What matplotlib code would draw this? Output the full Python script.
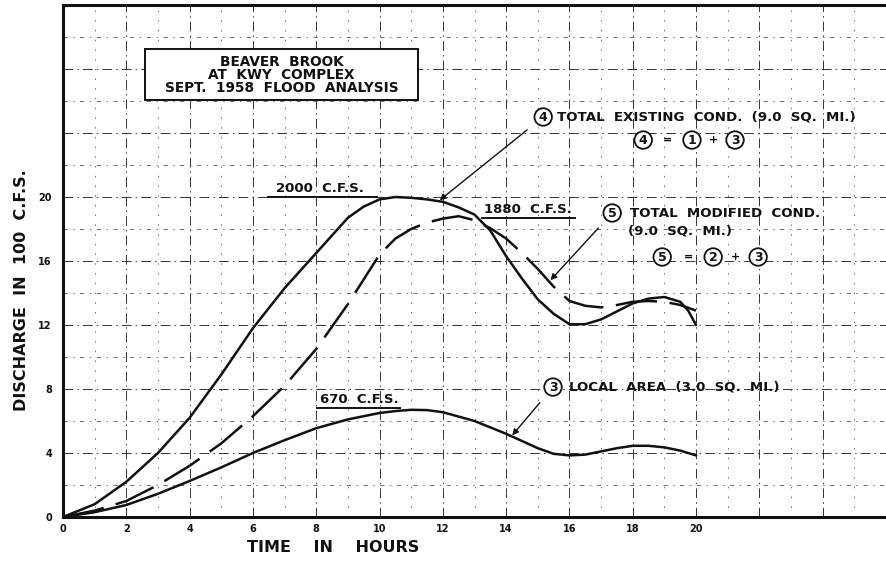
import matplotlib
matplotlib.use("Agg")
import matplotlib.pyplot as plt
from matplotlib.patches import Rectangle

plt.rcParams['font.family'] = ['DejaVu Sans']
plt.rcParams['font.weight'] = 'bold'
plt.rcParams['lines.scale_dashes'] = False

ink = '#111111'

# hydrographs, discharge in 100 c.f.s.
hours_exist = [0, 1, 2, 3, 4, 5, 6, 7, 8, 9, 9.5, 10, 10.5, 11, 11.5, 12, 12.5, 13, 13.5, 14, 14.5, 15, 15.5, 16, 16.5, 17, 17.5, 18, 18.5, 19, 19.5, 19.75, 20]
q_exist = [0, 0.8, 2.2, 4.0, 6.2, 8.9, 11.8, 14.3, 16.5, 18.7, 19.4, 19.85, 20.0, 19.95, 19.85, 19.7, 19.35, 18.9, 17.9, 16.3, 14.9, 13.6, 12.7, 12.05, 12.05, 12.35, 12.85, 13.35, 13.65, 13.75, 13.45, 12.9, 12.0]

hours_mod = [0, 1, 2, 3, 4, 5, 6, 7, 8, 9, 10, 10.5, 11, 11.5, 12, 12.5, 13, 13.5, 14, 14.5, 15, 15.5, 16, 16.5, 17, 17.5, 18, 18.5, 19, 19.5, 20]
q_mod = [0, 0.4, 1.0, 2.0, 3.2, 4.6, 6.3, 8.2, 10.5, 13.3, 16.4, 17.4, 18.0, 18.4, 18.65, 18.8, 18.55, 18.05, 17.4, 16.5, 15.5, 14.4, 13.5, 13.2, 13.1, 13.25, 13.45, 13.5, 13.45, 13.25, 12.9]

hours_local = [0, 1, 2, 3, 4, 5, 6, 7, 8, 9, 10, 10.5, 11, 11.5, 12, 13, 14, 15, 15.5, 16, 16.5, 17, 17.5, 18, 18.5, 19, 19.5, 20]
q_local = [0, 0.3, 0.75, 1.45, 2.25, 3.1, 4.0, 4.8, 5.55, 6.1, 6.5, 6.62, 6.7, 6.68, 6.55, 6.0, 5.2, 4.3, 3.95, 3.85, 3.9, 4.1, 4.3, 4.45, 4.45, 4.35, 4.15, 3.85]

xticks = [0, 2, 4, 6, 8, 10, 12, 14, 16, 18, 20]
yticks = [0, 4, 8, 12, 16, 20]

fig = plt.figure(figsize=(8.86, 5.61), dpi=100)
ax = fig.add_axes([63/886, 44/561, 823/886, 512/561])
ax.set_xlim(0, 26.0)
ax.set_ylim(0, 32)

# graph paper
for h in range(1, 27):
    if h % 2 == 0:
        ax.axvline(h, color='#333333', lw=0.7, ls=(0, (7, 3, 1, 3)), zorder=1)
    else:
        ax.axvline(h, color='#555555', lw=0.6, ls=(0, (1, 6)), zorder=1)
for q in range(2, 32, 2):
    if q % 4 == 0:
        ax.axhline(q, color='#333333', lw=0.7, ls=(0, (7, 3, 1, 3)), zorder=1)
    else:
        ax.axhline(q, color='#555555', lw=0.6, ls=(0, (3, 4, 1, 4)), zorder=1)

ax.plot(hours_exist, q_exist, color=ink, lw=1.8, solid_capstyle='round', solid_joinstyle='round', zorder=3)
ax.plot(hours_mod, q_mod, color=ink, lw=1.8, dashes=(30, 9), zorder=3)
ax.plot(hours_local, q_local, color=ink, lw=1.8, solid_capstyle='round', solid_joinstyle='round', zorder=3)

for s in ['left', 'bottom', 'top']:
    ax.spines[s].set_linewidth(2.2)
    ax.spines[s].set_color(ink)
ax.spines['right'].set_visible(False)

ax.set_xticks(xticks)
ax.set_yticks(yticks)
ax.tick_params(length=0, labelsize=7, colors=ink)
ax.tick_params(axis='x', pad=5)
ax.tick_params(axis='y', pad=8)

fig.text(22/886, 1 - 290/561, 'DISCHARGE  IN  100  C.F.S.', rotation=90, ha='center', va='center',
         fontsize=11.5, fontweight='bold', color=ink)
fig.text(333/886, 1 - 547/561, 'TIME    IN    HOURS', ha='center', va='center',
         fontsize=11.5, fontweight='bold', color=ink)

# title box
ax.add_patch(Rectangle((2.59, 26.06), 8.63, 3.2, fill=True, fc='white', ec=ink, lw=1.4, zorder=4))
ax.text(6.9, 27.62, 'BEAVER  BROOK\nAT  KWY  COMPLEX\nSEPT.  1958  FLOOD  ANALYSIS', ha='center', va='center',
        fontsize=9.8, fontweight='bold', linespacing=0.92, color=ink, zorder=5)

# peak labels
ax.text(8.12, 20.12, '2000  C.F.S.', ha='center', va='bottom', fontsize=9.5, color=ink, zorder=5)
ax.plot([6.48, 9.92], [20, 20], color=ink, lw=1.4, zorder=4)
ax.text(14.7, 18.8, '1880  C.F.S.', ha='center', va='bottom', fontsize=9.5, color=ink, zorder=5)
ax.plot([13.24, 16.18], [18.69, 18.69], color=ink, lw=1.4, zorder=4)
ax.text(9.35, 6.92, '670  C.F.S.', ha='center', va='bottom', fontsize=9.5, color=ink, zorder=5)
ax.plot([8.03, 10.65], [6.81, 6.81], color=ink, lw=1.4, zorder=4)

circ = dict(boxstyle='circle,pad=0.18', fc='white', ec=ink, lw=1.3)
arrow = dict(arrowstyle='-|>', color=ink, lw=1.0, mutation_scale=9, shrinkA=8, shrinkB=0)

# curve 4
ax.annotate('4', xy=(11.9, 19.8), xytext=(15.17, 25.0), ha='center', va='center', fontsize=9,
            color=ink, bbox=circ, arrowprops=arrow, zorder=6)
ax.text(15.6, 25.0, 'TOTAL  EXISTING  COND.  (9.0  SQ.  MI.)', ha='left', va='center',
        fontsize=9.6, color=ink, zorder=6)
for xx, s in zip([18.33, 19.87, 21.23], ['4', '1', '3']):
    ax.text(xx, 23.56, s, ha='center', va='center', fontsize=9, color=ink, bbox=circ, zorder=6)
ax.text(19.1, 23.56, '=', ha='center', va='center', fontsize=8, color=ink, zorder=6)
ax.text(20.55, 23.56, '+', ha='center', va='center', fontsize=8, color=ink, zorder=6)

# curve 5
ax.annotate('5', xy=(15.4, 14.8), xytext=(17.35, 19.0), ha='center', va='center', fontsize=9,
            color=ink, bbox=circ, arrowprops=arrow, zorder=6)
ax.text(17.9, 19.0, 'TOTAL  MODIFIED  COND.', ha='left', va='center', fontsize=9.6, color=ink, zorder=6)
ax.text(17.85, 17.9, '(9.0  SQ.  MI.)', ha='left', va='center', fontsize=9.6, color=ink, zorder=6)
for xx, s in zip([18.93, 20.54, 21.96], ['5', '2', '3']):
    ax.text(xx, 16.25, s, ha='center', va='center', fontsize=9, color=ink, bbox=circ, zorder=6)
ax.text(19.75, 16.25, '=', ha='center', va='center', fontsize=8, color=ink, zorder=6)
ax.text(21.25, 16.25, '+', ha='center', va='center', fontsize=8, color=ink, zorder=6)

# curve 3
ax.annotate('3', xy=(14.19, 5.1), xytext=(15.48, 8.12), ha='center', va='center', fontsize=9,
            color=ink, bbox=circ, arrowprops=arrow, zorder=6)
ax.text(16.0, 8.1, 'LOCAL  AREA  (3.0  SQ.  MI.)', ha='left', va='center', fontsize=9.6, color=ink, zorder=6)

fig.savefig('out.png', dpi=100)
